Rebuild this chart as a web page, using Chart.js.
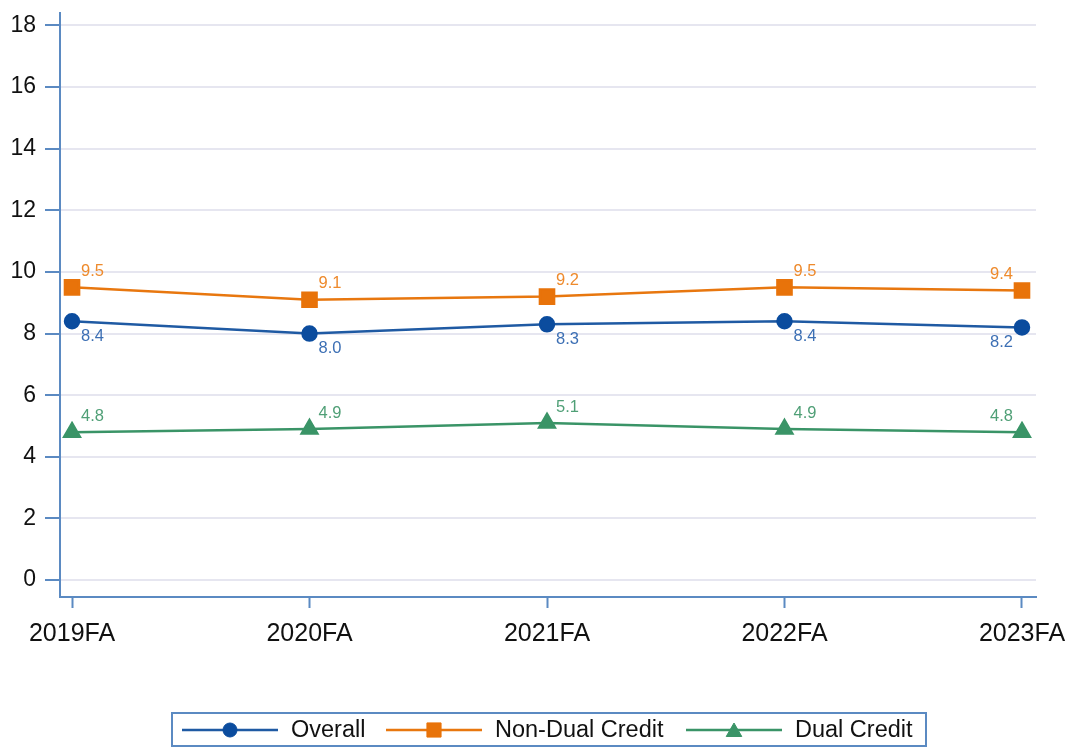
<!DOCTYPE html>
<html><head><meta charset="utf-8">
<script src="https://cdn.jsdelivr.net/npm/chart.js@4/dist/chart.umd.min.js"></script>
<style>html,body{margin:0;padding:0;background:#fff}#wrap{width:1073px;height:749px;position:relative}</style>
</head><body><div id="wrap"><canvas id="c" width="1073" height="749"></canvas></div>
<script>
const categories = ['2019FA','2020FA','2021FA','2022FA','2023FA'];
const overall = [8.4, 8.0, 8.3, 8.4, 8.2];
const nonDual = [9.5, 9.1, 9.2, 9.5, 9.4];
const dual = [4.8, 4.9, 5.1, 4.9, 4.8];
const yTicks = [0,2,4,6,8,10,12,14,16,18];
const seriesNames = ['Overall','Non-Dual Credit','Dual Credit'];

const AXIS = '#5b8ac2';
const FONT = "'Liberation Sans', Arial, sans-serif";
const toPts = arr => arr.map((v,i)=>({x:i,y:v}));

const labelPlugin = {
  id:'valueLabels',
  afterDatasetsDraw(chart){
    const ctx = chart.ctx;
    chart.data.datasets.forEach((ds,di)=>{
      const meta = chart.getDatasetMeta(di);
      ctx.save();
      ctx.font = '16.5px ' + FONT;
      ctx.fillStyle = ds.labelColor;
      ctx.textBaseline = 'middle';
      meta.data.forEach((pt,i)=>{
        const last = i === meta.data.length-1;
        ctx.textAlign = last ? 'right' : 'left';
        const x = last ? pt.x - 9 : pt.x + 9;
        const y = pt.y + ds.labelOffset;
        ctx.fillText(ds.data[i].y.toFixed(1), x, y);
      });
      ctx.restore();
    });
  }
};

const legendPlugin = {
  id:'boxLegend',
  afterDraw(chart){
    const ctx = chart.ctx;
    ctx.save();
    ctx.strokeStyle = AXIS; ctx.lineWidth = 2;
    ctx.strokeRect(172, 713, 754, 33);
    const starts = [182, 386, 686];
    const cy = 730;
    chart.data.datasets.forEach((ds,di)=>{
      const x0 = starts[di];
      ctx.strokeStyle = ds.borderColor; ctx.lineWidth = 2.5;
      ctx.beginPath(); ctx.moveTo(x0, cy); ctx.lineTo(x0+96, cy); ctx.stroke();
      ctx.fillStyle = ds.pointBackgroundColor; ctx.strokeStyle = ds.pointBorderColor; ctx.lineWidth = 1;
      Chart.helpers.drawPoint(ctx, {pointStyle: ds.pointStyle, rotation:0, borderWidth:1, radius: ds.pointRadius}, x0+48, cy + (ds.pointStyle==='triangle'?2:0));
      ctx.fillStyle = '#111'; ctx.font = '23.5px ' + FONT; ctx.textAlign='left'; ctx.textBaseline='middle';
      ctx.fillText(ds.label, x0+109, cy+1);
    });
    ctx.restore();
  }
};

new Chart(document.getElementById('c'), {
  type:'line',
  data:{ datasets:[
    {label:seriesNames[0], data:toPts(overall), borderColor:'#1f5aa3', backgroundColor:'#0b4c9e', pointBackgroundColor:'#0b4c9e', pointBorderColor:'#0b4c9e', pointStyle:'circle', pointRadius:7, borderWidth:2.5, labelColor:'#3c6fb4', labelOffset:15},
    {label:seriesNames[1], data:toPts(nonDual), borderColor:'#e8770f', backgroundColor:'#e8770f', pointBackgroundColor:'#e8730a', pointBorderColor:'#e8730a', pointStyle:'rect', pointRadius:10, borderWidth:2.5, labelColor:'#ee8a2c', labelOffset:-16},
    {label:seriesNames[2], data:toPts(dual), borderColor:'#3a9467', backgroundColor:'#3a9467', pointBackgroundColor:'#3a9467', pointBorderColor:'#3a9467', pointStyle:'triangle', pointRadius:9, borderWidth:2.5, labelColor:'#4f9f76', labelOffset:-16}
  ]},
  options:{
    responsive:false, animation:false, devicePixelRatio:1,
    layout:{padding:{left:0,right:37,top:9,bottom:92}},
    plugins:{legend:{display:false}, tooltip:{enabled:false}},
    elements:{line:{tension:0}, point:{borderWidth:1}},
    scales:{
      x:{ type:'linear', min:-0.0506, max:4.059,
        afterBuildTicks(s){ s.ticks = categories.map((c,i)=>({value:i})); },
        afterFit(s){ s.height = 60; s.paddingLeft = 0; s.paddingRight = 0; },
        ticks:{ callback:(v)=>categories[v], font:{size:25, family:FONT}, color:'#111', padding:11, maxRotation:0, autoSkip:false },
        grid:{ drawOnChartArea:false, drawTicks:true, tickLength:11, tickColor:AXIS, tickWidth:2 },
        border:{ color:AXIS, width:2 }
      },
      y:{ type:'linear', min:-0.548, max:18.42,
        afterBuildTicks(s){ s.ticks = yTicks.map(v=>({value:v})); },
        afterFit(s){ s.width = 60; s.paddingTop = 0; s.paddingBottom = 0; },
        ticks:{ font:{size:23, family:FONT}, color:'#111', padding:9 },
        grid:{ color:'#e6e6f0', lineWidth:2, tickLength:15, tickColor:AXIS, tickWidth:2 },
        border:{ color:AXIS, width:2 }
      }
    }
  },
  plugins:[labelPlugin, legendPlugin]
});
</script></body></html>
